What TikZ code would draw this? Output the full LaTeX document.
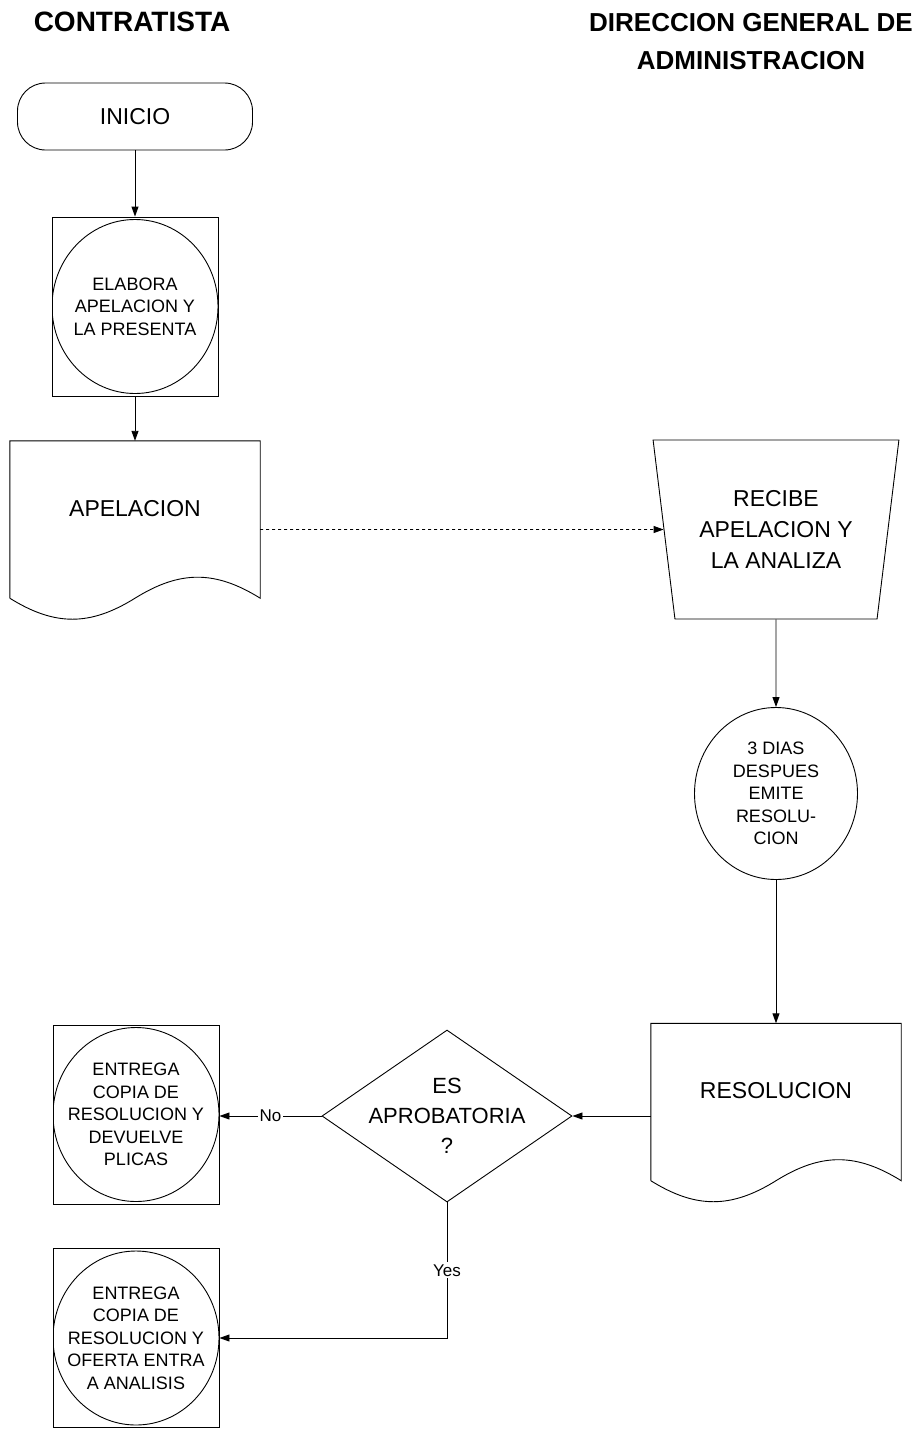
\documentclass[tikz,border=0pt]{standalone}
\usepackage{fontspec}
\setmainfont{Liberation Sans}
\usetikzlibrary{shapes.geometric,arrows.meta}
\newcommand{\grande}{\fontsize{23}{31}\selectfont}
\newcommand{\chica}{\fontsize{18}{22.5}\selectfont}
\newcommand{\titulo}{\fontsize{26}{38}\selectfont\bfseries}
% contorno de documento
\newcommand{\hoja}[1]{\draw[linea] (#1.south west) -- (#1.north west) -- (#1.north east) -- (#1.south east)
  .. controls +(-45,28) and +(45,28) .. (#1.south) .. controls +(-45,-28) and +(45,-28) .. (#1.south west);}
\tikzset{
  linea/.style={line width=0.9pt},
  flecha/.style={linea,-{Triangle[length=10pt,width=7pt]}},
  inicio/.style={draw,linea,rounded corners=28pt,minimum width=235pt,minimum height=67pt,font=\grande},
  caja/.style={draw,linea,minimum width=166pt,minimum height=179pt,inner sep=0pt,align=center,font=\chica,
    path picture={\draw[linea] (path picture bounding box.center) ellipse (83pt and 87pt);}},
  doc/.style={minimum width=250pt,minimum height=157pt,inner sep=0pt,text depth=23pt,font=\grande},
  manual/.style={draw,linea,trapezium,trapezium left angle=102,trapezium right angle=102,trapezium stretches=true,
    minimum width=246pt,minimum height=179pt,inner sep=0pt,align=center,font=\grande},
  tiempo/.style={draw,linea,ellipse,minimum width=163pt,minimum height=172pt,inner sep=0pt,align=center,font=\chica},
  decision/.style={draw,linea,diamond,minimum width=250pt,minimum height=172pt,inner sep=-30pt,align=center,
    font=\fontsize{22}{30}\selectfont},
  rotulo/.style={fill=white,inner sep=2pt,font=\fontsize{17}{20}\selectfont}
}
\begin{document}
\begin{tikzpicture}[x=1pt,y=1pt]
	\useasboundingbox (0,0) rectangle (918,-1438);
	% encabezados
	\node[font=\titulo\fontsize{28}{38}\selectfont] (contratista) at (132,-22) {CONTRATISTA};
	\node[font=\titulo,align=center] (direccion) at (751,-42) {DIRECCION GENERAL DE\\ADMINISTRACION};
	% columna izquierda
	\node[inicio] (inicio) at (135,-116.5) {INICIO};
	\node[caja] (elabora) at (135,-306.5) {ELABORA\\APELACION Y\\LA PRESENTA};
	\node[doc] (apelacion) at (135,-519.5) {APELACION};
	\hoja{apelacion}
	% columna derecha
	\node[manual] (recibe) at (776,-529.5) {RECIBE\\APELACION Y\\LA ANALIZA};
	\node[tiempo] (emite) at (776,-793.5) {3 DIAS\\DESPUES\\EMITE\\RESOLU-\\CION};
	\node[doc] (resolucion) at (776,-1102) {RESOLUCION};
	\hoja{resolucion}
	% decision
	\node[decision] (aprobatoria) at (447,-1116) {ES\\APROBATORIA\\?};
	\node[caja] (devuelve) at (136,-1114.5) {ENTREGA\\COPIA DE\\RESOLUCION Y\\DEVUELVE\\PLICAS};
	\node[caja] (analisis) at (136,-1338) {ENTREGA\\COPIA DE\\RESOLUCION Y\\OFERTA ENTRA\\A ANALISIS};
	% conectores
	\draw[flecha] (inicio.south) -- (elabora.north);
	\draw[flecha] (elabora.south) -- (apelacion.north);
	\draw[flecha,dashed] (apelacion.east |- recibe) -- (recibe);
	\draw[flecha] (recibe) -- (emite);
	\draw[flecha] (emite.south) -- (resolucion.north);
	\draw[flecha] (resolucion.west |- aprobatoria) -- (aprobatoria.east);
	\draw[flecha] (aprobatoria.west) -- node[rotulo] {No} (aprobatoria.west -| devuelve.east);
	\draw[flecha] (aprobatoria.south) |- node[rotulo,pos=0.25] {Yes} (analisis.east);
\end{tikzpicture}
\end{document}
